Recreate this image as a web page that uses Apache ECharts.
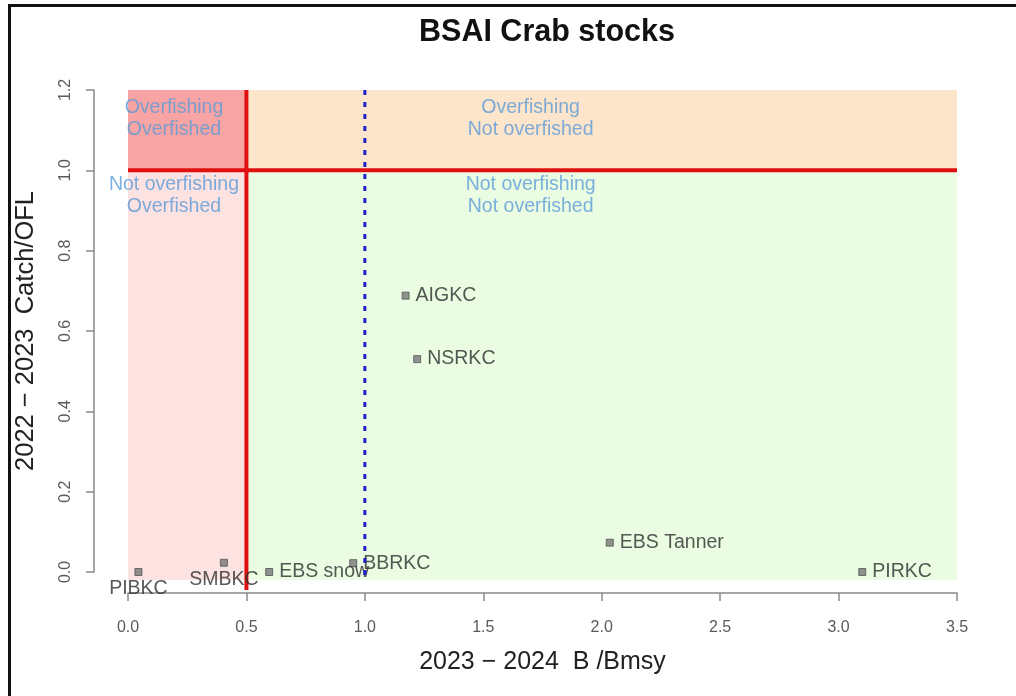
<!DOCTYPE html>
<html>
<head>
<meta charset="utf-8">
<script src="https://cdn.jsdelivr.net/npm/echarts/dist/echarts.min.js"></script>
<style>
html,body{margin:0;padding:0;background:#fff;}
#chart{width:1016px;height:696px;}
</style>
</head>
<body>
<div id="chart"></div>
<script>
// ---- data ----
const stocks = ['PIBKC', 'SMBKC', 'EBS snow', 'BBRKC', 'AIGKC', 'NSRKC', 'EBS Tanner', 'PIRKC'];
const bRatio = [0.044, 0.405, 0.596, 0.951, 1.172, 1.221, 2.034, 3.10];
const catchOfl = [0.0, 0.023, 0.0, 0.022, 0.688, 0.530, 0.073, 0.0];
const labelSide = ['bottom', 'bottom', 'right', 'right', 'right', 'right', 'right', 'right'];

const zoneTexts = ['Overfishing\nOverfished', 'Overfishing\nNot overfished', 'Not overfishing\nOverfished', 'Not overfishing\nNot overfished'];
const zoneTextB = [0.194, 1.70, 0.194, 1.70];
const zoneTextC = [1.128, 1.128, 0.937, 0.937];

const zoneB0 = [0, 0.5, 0, 0.5];
const zoneB1 = [0.5, 3.5, 0.5, 3.5];
const zoneC0 = [1.0, 1.0, -0.02, -0.02];
const zoneC1 = [1.2, 1.2, 1.0, 1.0];

const msstLine = [[0.5, 1.2], [0.5, -0.045]];
const oflLine = [[0, 1.0], [3.5, 1.0]];
const bmsyLine = [[1.0, 1.2], [1.0, -0.01]];

const xMin = 0, xMax = 3.5, xStep = 0.5;
const yMin = 0, yMax = 1.2, yStep = 0.2;

// ---- styles ----
const zoneColors = ['#f8a4a4', '#fde5cb', '#fde2e2', '#eafde3'];
const FONT = '"Liberation Sans", Arial, sans-serif';

const chart = echarts.init(document.getElementById('chart'), null, {renderer: 'canvas'});

const zoneData = zoneB0.map((b, i) => [b, zoneB1[i], zoneC0[i], zoneC1[i]]);
const pointData = stocks.map((s, i) => ({
  value: [bRatio[i], catchOfl[i]],
  name: s,
  label: {position: labelSide[i], distance: labelSide[i] === 'bottom' ? 3 : 6}
}));
const zoneTextData = zoneTexts.map((t, i) => ({value: [zoneTextB[i], zoneTextC[i]], name: t}));

chart.setOption({
  animation: false,
  backgroundColor: '#ffffff',
  title: {
    text: 'BSAI Crab stocks',
    left: 542, top: 12, textAlign: 'center',
    textStyle: {fontFamily: FONT, fontSize: 30.5, fontWeight: 'bold', color: '#111'}
  },
  graphic: [
    {type: 'rect', shape: {x: 8, y: 4, width: 1008, height: 3}, style: {fill: '#111'}},
    {type: 'rect', shape: {x: 8, y: 4, width: 3, height: 692}, style: {fill: '#111'}}
  ],
  grid: {left: 128, right: 59, top: 90, bottom: 124},
  xAxis: {
    type: 'value', min: xMin, max: xMax, interval: xStep, offset: 21,
    name: '2023 \u2212 2024  B /Bmsy', nameLocation: 'middle', nameGap: 57,
    nameTextStyle: {fontFamily: FONT, fontSize: 25, color: '#222'},
    axisLine: {show: true, onZero: false, lineStyle: {color: '#8a8a8a', width: 1.5}},
    axisTick: {show: true, length: 8, lineStyle: {color: '#8a8a8a', width: 1.5}},
    axisLabel: {fontFamily: FONT, fontSize: 16, color: '#5a5a5a', margin: 27, formatter: v => v.toFixed(1)},
    splitLine: {show: false}
  },
  yAxis: {
    type: 'value', min: yMin, max: yMax, interval: yStep, offset: 34,
    name: '2022 \u2212 2023  Catch/OFL', nameLocation: 'middle', nameGap: 55,
    nameTextStyle: {fontFamily: FONT, fontSize: 25.5, color: '#222'},
    axisLine: {show: true, onZero: false, lineStyle: {color: '#8a8a8a', width: 1.5}},
    axisTick: {show: true, length: 8, lineStyle: {color: '#8a8a8a', width: 1.5}},
    axisLabel: {fontFamily: FONT, fontSize: 16, color: '#5a5a5a', margin: 20, rotate: 90, formatter: v => v.toFixed(1)},
    splitLine: {show: false}
  },
  series: [
    {
      type: 'custom', silent: true, clip: false, z: 1,
      encode: {x: [0, 1], y: [2, 3]},
      data: zoneData,
      renderItem: (params, api) => {
        const p0 = api.coord([api.value(0), api.value(3)]);
        const p1 = api.coord([api.value(1), api.value(2)]);
        return {
          type: 'rect',
          shape: {x: p0[0], y: p0[1], width: p1[0] - p0[0], height: p1[1] - p0[1]},
          style: {fill: zoneColors[params.dataIndex]}
        };
      }
    },
    {
      type: 'scatter', silent: true, z: 2, symbolSize: 0,
      data: zoneTextData,
      label: {
        show: true, position: 'inside', formatter: p => p.name,
        fontFamily: FONT, fontSize: 19.5, lineHeight: 22, color: '#5b9bd8', align: 'center'
      }
    },
    {
      type: 'line', silent: true, clip: false, z: 3, symbol: 'none',
      data: oflLine, lineStyle: {color: '#e01010', width: 4}
    },
    {
      type: 'line', silent: true, clip: false, z: 3, symbol: 'none',
      data: msstLine, lineStyle: {color: '#e01010', width: 4}
    },
    {
      type: 'line', silent: true, clip: false, z: 5, symbol: 'none',
      data: bmsyLine, lineStyle: {color: '#2020c8', width: 3, type: [5, 7]}
    },
    {
      type: 'scatter', silent: true, clip: false, z: 4,
      symbol: 'rect', symbolSize: 7,
      itemStyle: {color: '#777', borderColor: '#555', borderWidth: 1},
      data: pointData,
      label: {show: true, formatter: p => p.name, fontFamily: FONT, fontSize: 19.5, color: '#2d2d2d'}
    }
  ]
});
</script>
</body>
</html>
